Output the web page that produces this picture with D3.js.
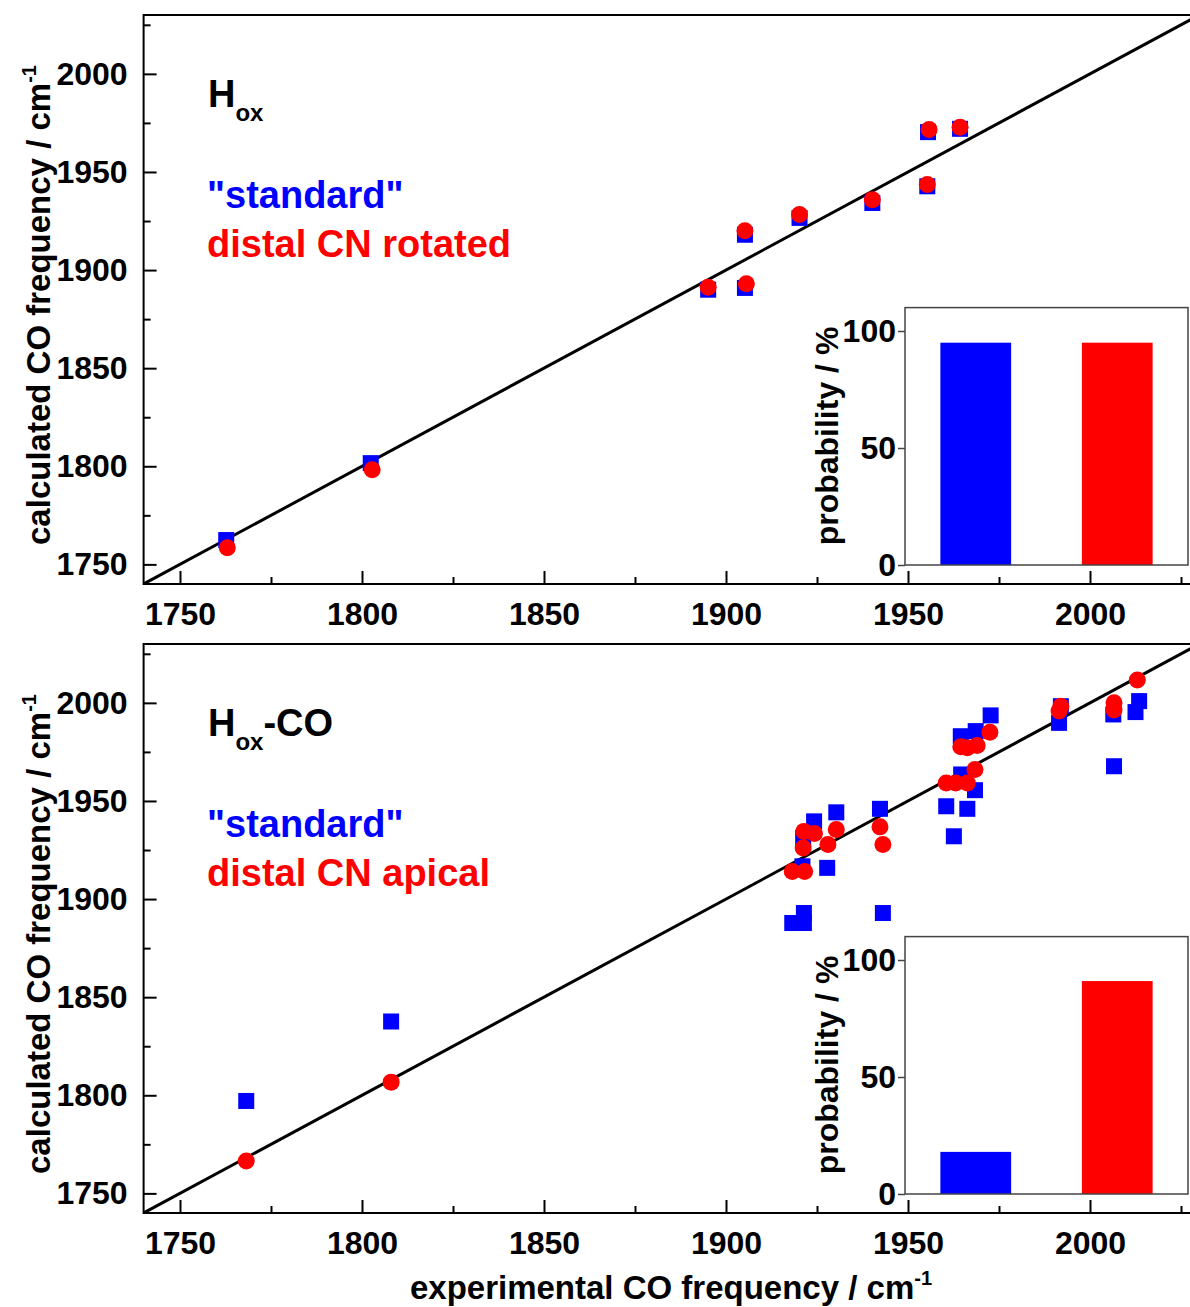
<!DOCTYPE html>
<html>
<head>
<meta charset="utf-8">
<script src="https://cdn.jsdelivr.net/npm/d3@7"></script>
<style>
    body { margin: 0; background: #fff; }
    svg text { font-family: "Liberation Sans", Arial, sans-serif; font-weight: bold; }
</style>
</head>
<body>
<div id="chart"></div>
<script>
// panel 1: Hox
const hoxExp = [1762.7, 1802.4, 1895.1, 1905.2, 1905.2, 1920.2, 1940.2, 1955.3, 1955.5, 1964.3];
const hoxStd = [1762.4, 1801.6, 1890, 1890.9, 1918, 1926.6, 1934.2, 1942.7, 1970.3, 1972];
const hoxRotExp = [1763, 1802.8, 1895.1, 1905.6, 1905.2, 1920.2, 1940.2, 1955.3, 1955.8, 1964.3];
const hoxRot = [1758.5, 1798.2, 1891.2, 1893, 1920, 1928.3, 1935.9, 1943.6, 1971.6, 1972.8];

// panel 2: Hox-CO
const coStdExp = [1768.2, 1808, 1918.2, 1921.4, 1921.4, 1943.1, 1921, 1927.8, 1921.2, 1924.2, 1930.3, 1942.3, 1962.6,
    1960.5, 1966.3, 1968.4, 1964.6, 1964.5, 1968.6, 1972.7, 1991.5, 1992, 2006.6, 2006.4, 2012.5, 2013.5];
const coStd = [1797.1, 1837.6, 1887.8, 1892.9, 1887.8, 1892.9, 1916.7, 1915.9, 1931.2, 1939.6, 1944.2, 1946, 1932,
    1947.3, 1946, 1955.5, 1963.5, 1983, 1985.6, 1993.6, 1989.8, 1998.3, 1967.7, 1994.1, 1995.3, 2000.9];
const coApiExp = [1768.2, 1808, 1918.2, 1921.6, 1921.2, 1921.4, 1924.3, 1928, 1930.3, 1942.3, 1943.1, 1960.5,
    1963.1, 1966.3, 1968.4, 1964.5, 1966.3, 1969, 1972.5, 1992, 1991.5, 2006.6, 2006.6, 2013];
const coApi = [1766.5, 1806.7, 1914.1, 1914.1, 1926, 1934.5, 1933.4, 1927.8, 1935.4, 1936.8, 1927.8, 1959.2,
    1959.2, 1959.2, 1966, 1977.6, 1977.1, 1978.3, 1985, 1998.3, 1995.8, 2000.1, 1996.4, 2011.6];

const barLabels = ["standard", "alternative"];
const hoxProb = [95, 95];
const coProb = [18, 91];

const freqDomain = [1740, 2030];
const majorTicks = [1750, 1800, 1850, 1900, 1950, 2000];
const minorTicks = [1775, 1825, 1875, 1925, 1975, 2025];
const probTicks = [0, 50, 100];

const width = 1190, height = 1307;
const blue = "#0000ff", red = "#ff0000";

const svg = d3.select("#chart").append("svg")
    .attr("width", width)
    .attr("height", height);

const x = d3.scaleLinear().domain(freqDomain).range([143.6, 1199.2]);

function drawPanel(top, stdX, stdY, altX, altY, prob, title, altName) {
    const y = d3.scaleLinear().domain(freqDomain).range([top + 570, top + 1]);
    const g = svg.append("g");
    const clipId = "clip" + top;

    g.append("clipPath").attr("id", clipId)
        .append("rect")
        .attr("x", x.range()[0]).attr("y", y.range()[1])
        .attr("width", x.range()[1] - x.range()[0])
        .attr("height", y.range()[0] - y.range()[1]);

    // x axis, ticks pointing inward
    g.append("g")
        .attr("transform", `translate(0,${y.range()[0]})`)
        .call(d3.axisBottom(x).tickValues(majorTicks).tickSize(-13).tickPadding(18).tickFormat(d3.format("d")))
        .call(a => a.select(".domain").remove())
        .call(a => a.selectAll("line").attr("stroke-width", 2))
        .call(a => a.selectAll("text").style("font-size", "32px").attr("fill", "#000"));
    g.append("g")
        .attr("transform", `translate(0,${y.range()[0]})`)
        .call(d3.axisBottom(x).tickValues(minorTicks).tickSize(-7).tickFormat(""))
        .call(a => a.select(".domain").remove())
        .call(a => a.selectAll("line").attr("stroke-width", 2));

    // y axis
    g.append("g")
        .attr("transform", `translate(${x.range()[0]},0)`)
        .call(d3.axisLeft(y).tickValues(majorTicks).tickSize(-13).tickPadding(16).tickFormat(d3.format("d")))
        .call(a => a.select(".domain").remove())
        .call(a => a.selectAll("line").attr("stroke-width", 2))
        .call(a => a.selectAll("text").style("font-size", "32px").attr("fill", "#000"));
    g.append("g")
        .attr("transform", `translate(${x.range()[0]},0)`)
        .call(d3.axisLeft(y).tickValues(minorTicks).tickSize(-7).tickFormat(""))
        .call(a => a.select(".domain").remove())
        .call(a => a.selectAll("line").attr("stroke-width", 2));

    g.append("rect")
        .attr("x", x.range()[0]).attr("y", y.range()[1])
        .attr("width", x.range()[1] - x.range()[0])
        .attr("height", y.range()[0] - y.range()[1])
        .attr("fill", "none")
        .attr("stroke", "#000")
        .attr("stroke-width", 2);

    // y axis title
    const yt = g.append("text")
        .attr("transform", `translate(50,${top + 291}) rotate(-90)`)
        .attr("text-anchor", "middle")
        .style("font-size", "33px");
    yt.append("tspan").text("calculated CO frequency / cm");
    yt.append("tspan").attr("dy", -14).style("font-size", "20px").text("-1");

    // diagonal
    g.append("path")
        .datum(freqDomain)
        .attr("clip-path", `url(#${clipId})`)
        .attr("fill", "none")
        .attr("stroke", "#000")
        .attr("stroke-width", 3)
        .attr("d", d3.line().x(d => x(d)).y(d => y(d)));

    // markers
    const plot = g.append("g").attr("clip-path", `url(#${clipId})`);
    plot.selectAll(".sq")
        .data(stdX.map((d, i) => [d, stdY[i]]))
        .enter().append("rect")
        .attr("class", "sq")
        .attr("x", d => x(d[0]) - 8)
        .attr("y", d => y(d[1]) - 8)
        .attr("width", 16)
        .attr("height", 16)
        .attr("fill", blue);
    plot.selectAll(".dot")
        .data(altX.map((d, i) => [d, altY[i]]))
        .enter().append("circle")
        .attr("class", "dot")
        .attr("cx", d => x(d[0]))
        .attr("cy", d => y(d[1]))
        .attr("r", 8.5)
        .attr("fill", red);

    // labels
    const t = g.append("text")
        .attr("x", 208).attr("y", top + 93 + (title ? 0 : 0))
        .style("font-size", "38px").attr("fill", "#000");
    t.append("tspan").text("H");
    t.append("tspan").attr("dy", 14).style("font-size", "24px").text("ox");
    if (title) t.append("tspan").attr("dy", -14).text(title);

    g.append("text")
        .attr("x", 207).attr("y", top + 194)
        .style("font-size", "38px").attr("fill", blue)
        .text('"standard"');
    g.append("text")
        .attr("x", 207).attr("y", top + 243)
        .style("font-size", "38px").attr("fill", red)
        .text(altName);

    // inset bar chart
    const ix = d3.scaleBand().domain(barLabels).range([905, 1188]).paddingInner(0.5).paddingOuter(0.25);
    const iy = d3.scaleLinear().domain([0, 110]).range([top + 551, top + 293.6]);

    g.append("rect")
        .attr("x", 905).attr("y", iy.range()[1])
        .attr("width", 283)
        .attr("height", iy.range()[0] - iy.range()[1])
        .attr("fill", "#fff");

    g.selectAll(".bar" + top)
        .data(prob)
        .enter().append("rect")
        .attr("x", (d, i) => ix(barLabels[i]))
        .attr("y", d => iy(d))
        .attr("width", ix.bandwidth())
        .attr("height", d => iy(0) - iy(d))
        .attr("fill", (d, i) => i === 0 ? blue : red);

    g.append("rect")
        .attr("x", 905).attr("y", iy.range()[1])
        .attr("width", 283)
        .attr("height", iy.range()[0] - iy.range()[1])
        .attr("fill", "none")
        .attr("stroke", "#444")
        .attr("stroke-width", 1.5);

    g.append("g")
        .attr("transform", "translate(905,0)")
        .call(d3.axisLeft(iy).tickValues(probTicks).tickSize(7).tickPadding(2))
        .call(a => a.select(".domain").remove())
        .call(a => a.selectAll("line").attr("stroke", "#444").attr("stroke-width", 1.5))
        .call(a => a.selectAll("text").style("font-size", "32px").attr("fill", "#000"));

    g.append("text")
        .attr("transform", `translate(838,${top + 422}) rotate(-90)`)
        .attr("text-anchor", "middle")
        .style("font-size", "32px")
        .text("probability / %");
}

drawPanel(14, hoxExp, hoxStd, hoxRotExp, hoxRot, hoxProb, "", "distal CN rotated");
drawPanel(643, coStdExp, coStd, coApiExp, coApi, coProb, "-CO", "distal CN apical");

const xt = svg.append("text")
    .attr("x", 671).attr("y", 1299)
    .attr("text-anchor", "middle")
    .style("font-size", "33px");
xt.append("tspan").text("experimental CO frequency / cm");
xt.append("tspan").attr("dy", -14).style("font-size", "20px").text("-1");
</script>
</body>
</html>
